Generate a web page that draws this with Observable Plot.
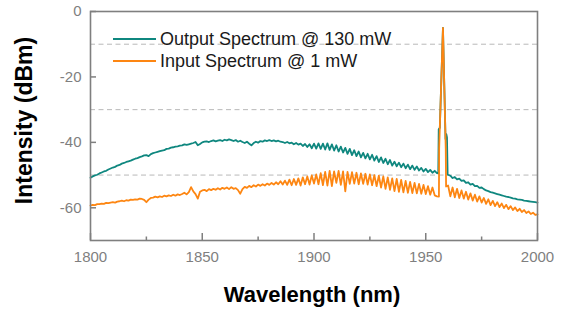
<!DOCTYPE html>
<html>
<head>
<meta charset="utf-8">
<script src="https://cdn.jsdelivr.net/npm/d3@7"></script>
<script src="https://cdn.jsdelivr.net/npm/@observablehq/plot@0.6"></script>
<style>
  html, body { margin: 0; padding: 0; background: white; }
  #wrap { position: relative; width: 565px; height: 313px; font-family: 'Liberation Sans', Arial, sans-serif; }
  #legend { position: absolute; left: 113px; top: 28.3px; font-size: 18px; color: #1a1a1a; }
  .row { display: flex; align-items: center; height: 22px; line-height: 22px; white-space: nowrap; }
  .swatch { width: 43px; height: 2px; margin-right: 4px; }
</style>
</head>
<body>
<div id="wrap">
  <div id="chart"></div>
  <div id="legend"></div>
</div>
<script>
// ---- Data ----
const seriesNames = ["Output Spectrum @ 130 mW", "Input Spectrum @ 1 mW"];
const seriesColors = ["#0f877f", "#fd8612"];

// Output spectrum (130 mW): integer wavelengths 1800..1955, peak samples, then 1960..2000
const outPower1800to1955 = [
  -50.8, -50.4, -50.1, -49.9, -49.5, -49.2, -48.9, -48.7, -48.3, -48.0,
  -47.7, -47.5, -47.1, -46.9, -46.5, -46.3, -46.0, -45.8, -45.6, -45.3,
  -45.0, -44.8, -44.5, -44.3, -44.0, -43.9, -44.2, -43.6, -43.3, -43.1,
  -42.9, -42.7, -42.5, -42.4, -42.0, -41.9, -41.6, -41.5, -41.3, -41.2,
  -41.0, -40.9, -40.6, -40.8, -40.6, -40.4, -40.2, -39.9, -40.9, -40.5,
  -40.0, -39.8, -39.7, -39.9, -39.6, -39.4, -39.7, -39.5, -39.3, -39.6,
  -39.2, -39.4, -39.1, -39.3, -39.6, -39.3, -39.8, -39.5, -39.9, -40.2,
  -39.8, -40.4, -40.9, -40.2, -39.8, -40.1, -39.6, -39.8, -39.4, -39.6,
  -39.3, -39.6, -39.4, -39.7, -39.5, -39.8, -39.9, -40.2, -39.9, -40.3,
  -40.1, -40.6, -40.2, -40.7, -40.4, -41.1, -40.5, -41.4, -40.6, -41.8,
  -40.4, -41.9, -40.3, -42.0, -40.4, -42.2, -40.3, -42.3, -40.6, -42.5,
  -40.9, -42.8, -41.3, -43.1, -41.7, -43.5, -42.0, -43.9, -42.4, -44.2,
  -42.8, -44.6, -43.2, -44.9, -43.5, -45.2, -43.8, -45.6, -44.2, -46.0,
  -44.6, -46.3, -45.0, -46.7, -45.4, -47.1, -45.9, -47.3, -46.2, -47.6,
  -46.5, -47.9, -46.8, -48.2, -47.1, -48.4, -47.4, -48.6, -47.8, -48.9,
  -48.1, -49.1, -48.4, -49.3, -48.7, -49.4
];
const outPeakWavelength = [1955.6, 1955.8, 1956.3, 1957.7, 1958.85, 1959.2, 1959.5, 1959.8];
const outPeakPower = [-49.5, -36.0, -35.5, -5.0, -39.0, -37.5, -38.5, -49.8];
const outPower1960to2000 = [
  -49.9, -50.2, -50.9, -50.6, -51.3, -51.1, -51.8, -51.6, -52.4, -52.2,
  -52.9, -52.7, -53.4, -53.3, -53.9, -53.8, -54.3, -54.7, -54.9, -55.2,
  -55.4, -55.6, -55.8, -56.0, -56.2, -56.4, -56.6, -56.7, -56.9, -57.1,
  -57.2, -57.4, -57.5, -57.6, -57.8, -57.9, -58.0, -58.1, -58.2, -58.3,
  -58.4
];

// Input spectrum (1 mW)
const inPower1800to1955 = [
  -59.3, -59.1, -59.2, -58.9, -58.9, -58.7, -58.8, -58.5, -58.6, -58.4,
  -58.3, -58.4, -58.1, -58.0, -57.8, -58.0, -57.7, -57.8, -57.5, -57.6,
  -57.4, -57.5, -57.2, -57.3, -57.6, -58.3, -57.5, -57.0, -56.9, -56.6,
  -56.8, -56.5, -56.7, -56.3, -56.5, -56.2, -56.4, -56.0, -56.3, -55.9,
  -56.1, -55.8, -55.4, -55.9, -55.2, -53.7, -55.0, -55.8, -57.2, -55.1,
  -54.7, -54.5, -54.9, -54.3, -54.6, -54.2, -54.5, -54.0, -54.4, -53.9,
  -54.2, -53.8, -54.3, -53.7, -54.2, -54.0, -54.6, -55.7, -54.3, -53.6,
  -53.9, -53.3, -53.7, -53.1, -53.5, -52.9, -53.3, -52.8, -53.2, -52.6,
  -53.0, -52.4, -52.9, -52.2, -52.8, -51.9, -52.9, -51.7, -53.0, -51.4,
  -53.1, -51.2, -53.0, -51.0, -53.2, -50.7, -52.8, -50.4, -52.9, -50.1,
  -52.6, -49.8, -52.8, -49.4, -53.1, -49.0, -53.2, -48.7, -53.4, -48.9,
  -52.4, -48.7, -53.0, -48.9, -55.0, -49.0, -52.7, -49.1, -52.6, -49.3,
  -52.8, -49.5, -52.7, -49.6, -52.9, -49.8, -53.1, -50.0, -53.4, -50.2,
  -53.8, -50.4, -54.2, -50.7, -54.5, -51.0, -54.9, -51.2, -55.1, -51.5,
  -55.3, -51.8, -55.4, -52.1, -55.5, -52.4, -55.6, -52.7, -55.7, -53.0,
  -55.8, -53.4, -56.0, -53.8, -56.2, -56.5
];
const inPeakWavelength = [1955.9, 1956.0, 1957.7, 1958.95, 1959.1];
const inPeakPower = [-56.6, -42.0, -5.0, -42.0, -53.5];
const inPower1960to2000 = [
  -53.2, -56.5, -53.8, -56.8, -54.2, -57.0, -54.7, -57.2, -55.1, -57.5,
  -55.6, -57.8, -56.0, -58.1, -56.5, -58.4, -57.0, -58.8, -57.4, -59.2,
  -57.9, -59.5, -58.3, -59.8, -58.7, -60.1, -59.1, -60.4, -59.5, -60.7,
  -59.9, -61.0, -60.3, -61.3, -60.7, -61.6, -61.1, -61.9, -61.5, -62.2,
  -62.0
];

const xTicks = [1800, 1850, 1900, 1950, 2000];
const xMinorTicks = [1825, 1875, 1925, 1975];
const yTicks = [0, -20, -40, -60];
const gridLevels = [-10, -30, -50];
const xTitle = "Wavelength (nm)";
const yTitle = "Intensity (dBm)";

// ---- Build tables ----
const lowGrid = d3.range(1800, 1956);
const highGrid = d3.range(1960, 2001);
function build(low, peakX, peakY, high) {
  const xs = [...lowGrid, ...peakX, ...highGrid];
  const ys = [...low, ...peakY, ...high];
  return xs.map((x, i) => ({x, y: ys[i]}));
}
const outData = build(outPower1800to1955, outPeakWavelength, outPeakPower, outPower1960to2000);
const inData = build(inPower1800to1955, inPeakWavelength, inPeakPower, inPower1960to2000);

const W = 565, H = 313, mL = 90, mR = 28, mT = 11, mB = 73;
const plotH = H - mT - mB, plotW = W - mL - mR;
const axisGray = "#7f7f7f";

const chart = Plot.plot({
  width: W, height: H,
  marginLeft: mL, marginRight: mR, marginTop: mT, marginBottom: mB,
  x: {domain: [1800, 2000]},
  y: {domain: [-70, 0]},
  style: {fontFamily: "'Liberation Sans', Arial, sans-serif", background: "white", color: axisGray, overflow: "visible"},
  marks: [
    Plot.ruleY(gridLevels, {stroke: "#b8b8b8", strokeDasharray: "5,3.5", strokeWidth: 1}),
    Plot.line(outData, {x: "x", y: "y", stroke: seriesColors[0], strokeWidth: 1.8}),
    Plot.line(inData, {x: "x", y: "y", stroke: seriesColors[1], strokeWidth: 1.8}),
    Plot.frame({stroke: axisGray, strokeWidth: 1.6}),
    Plot.tickX(xTicks, {x: d => d, insetTop: plotH - 7, stroke: axisGray, strokeWidth: 1.5}),
    Plot.tickX(xMinorTicks, {x: d => d, insetTop: plotH - 3.5, stroke: axisGray, strokeWidth: 1.5}),
    Plot.tickY(yTicks, {y: d => d, insetRight: plotW - 6, stroke: axisGray, strokeWidth: 1.5}),
    Plot.axisX({ticks: xTicks, tickFormat: d => String(d), tickSize: 0, tickPadding: 11, fontSize: 15, label: null}),
    Plot.axisY({ticks: yTicks, tickFormat: d => String(d), tickSize: 0, tickPadding: 9, fontSize: 15, label: null}),
    Plot.text([xTitle], {frameAnchor: "bottom", textAnchor: "middle", lineAnchor: "middle", dy: 54, dx: -2, fill: "black", fontWeight: "bold", fontSize: 22}),
    Plot.text([yTitle], {frameAnchor: "left", textAnchor: "middle", lineAnchor: "middle", rotate: -90, dx: -65.5, dy: -5.5, fill: "black", fontWeight: "bold", fontSize: 23})
  ]
});
document.getElementById("chart").appendChild(chart);

const legend = document.getElementById("legend");
seriesNames.forEach((name, i) => {
  const row = document.createElement("div");
  row.className = "row";
  const sw = document.createElement("span");
  sw.className = "swatch";
  sw.style.background = seriesColors[i];
  const label = document.createElement("span");
  label.textContent = name;
  row.appendChild(sw);
  row.appendChild(label);
  legend.appendChild(row);
});
</script>
</body>
</html>
